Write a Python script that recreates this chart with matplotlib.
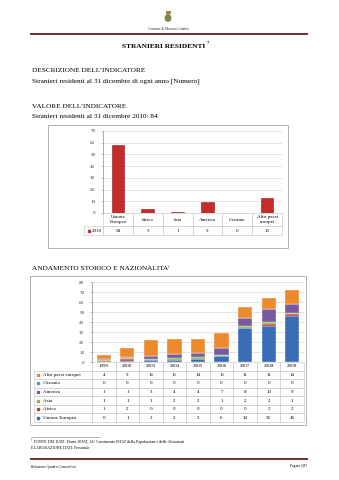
import matplotlib
matplotlib.use("Agg")
import matplotlib.pyplot as plt
import numpy as np
from matplotlib.patches import Rectangle, Ellipse
from matplotlib.lines import Line2D

W, H = 339, 480
SERIF = ["Liberation Serif", "DejaVu Serif"]
plt.rcParams["font.family"] = SERIF

# --- 2010 snapshot by area of origin
areas = ["Unione\nEuropea", "Africa", "Asia", "America", "Oceania", "Altri paesi\neuropei"]
residents_2010 = [58, 3, 1, 9, 0, 13]

# --- historical series (stack order bottom -> top)
years = ["1999", "2000", "2003", "2004", "2005", "2006", "2007", "2008", "2009"]
series_names = ["Unione Europea", "Africa", "Asia", "America", "Oceania", "Altri paesi europei"]
unione_europea = [0, 1, 2, 2, 3, 6, 34, 36, 46]
africa = [1, 2, 0, 0, 0, 0, 0, 2, 2]
asia = [1, 1, 1, 2, 2, 1, 2, 2, 1]
america = [1, 1, 3, 4, 4, 7, 8, 13, 9]
oceania = [0, 0, 0, 0, 0, 0, 0, 0, 0]
altri_europei = [4, 9, 16, 15, 14, 15, 11, 11, 14]
series_colors = ["#3a6db5", "#c0392f", "#8db34a", "#7a5a9e", "#3fa6c0", "#ee8a2e"]

fig = plt.figure(figsize=(W / 100, H / 100), dpi=100)
fig.patch.set_facecolor("white")


def fx(px):
    return px / W


def fy(py):
    return 1 - py / H


def ftext(x, y, s, **kw):
    fig.text(fx(x), fy(y), s, va="center", **kw)


def hline(x0, x1, y, **kw):
    fig.add_artist(Line2D([fx(x0), fx(x1)], [fy(y), fy(y)], **kw))


def box(x0, y0, x1, y1):
    fig.add_artist(Rectangle((fx(x0), fy(y1)), fx(x1) - fx(x0), fy(y0) - fy(y1),
                             fill=False, edgecolor="#a6a6a6", lw=0.6))


# page header
fig.add_artist(Ellipse((fx(168), fy(18)), fx(6), 7 / H, facecolor="#7d8a4a",
                       edgecolor="#5b6233", lw=0.4))
fig.add_artist(Rectangle((fx(165.5), fy(14)), fx(5), 2.5 / H, facecolor="#a08a4a", lw=0))
ftext(169, 29, "Comune di Morano Calabro", fontsize=2.6, ha="center", color="#333333")
hline(31, 307, 34, color="#6d2e2e", lw=1.4)
ftext(205, 46, "STRANIERI RESIDENTI", fontsize=5.3, ha="right", fontweight="bold")
ftext(206.5, 43.5, "7", fontsize=3.2, ha="left", fontweight="bold")

ftext(32, 70, "DESCRIZIONE DELL\u2019INDICATORE", fontsize=5.2, ha="left")
ftext(32, 81, "Stranieri residenti al 31 dicembre di ogni anno [Numero]", fontsize=5.2, ha="left")
ftext(32, 106, "VALORE DELL\u2019INDICATORE", fontsize=5.2, ha="left")
ftext(32, 117, "Stranieri residenti al 31 dicembre 2010: 84", fontsize=5.2, ha="left")
ftext(32, 268, "ANDAMENTO STORICO E NAZIONALITA\u2019", fontsize=5.2, ha="left")


def style_axes(ax, top):
    ax.set_ylim(0, top)
    ax.set_yticks(np.arange(0, top + 1, 10))
    ax.yaxis.grid(True, color="#d9d9d9", lw=0.5)
    ax.set_axisbelow(True)
    for side in ("top", "right", "bottom"):
        ax.spines[side].set_visible(False)
    ax.spines["left"].set_color("#8c8c8c")
    ax.spines["left"].set_linewidth(0.5)
    ax.tick_params(axis="y", labelsize=3.6, length=1.5, width=0.4, pad=4, colors="#8c8c8c",
                   labelcolor="#333333")
    ax.set_xticks([])
    ax.axhline(0, color="#8c8c8c", lw=0.5)


def data_table(ax, labels, header, rows, label_w, col_w, bbox, label_loc):
    body = [[lab] + vals for lab, vals in zip(labels, rows)]
    tbl = ax.table(cellText=body, colLabels=[""] + header,
                   colWidths=[label_w] + [col_w] * len(header),
                   cellLoc="center", bbox=bbox)
    tbl.auto_set_font_size(False)
    tbl.set_fontsize(3.6)
    for (r, c), cell in tbl.get_celld().items():
        cell.set_edgecolor("#bfbfbf")
        cell.set_linewidth(0.4)
        if r == 0 and c == 0:
            cell.set_linewidth(0)
        if c == 0 and r > 0:
            cell.get_text().set_ha(label_loc)
            cell._loc = label_loc
            cell.PAD = 0.06
    return tbl


# chart 1: 2010 by area
box(48, 125, 288, 248)
ax1 = fig.add_axes([fx(103), fy(213), fx(282) - fx(103), (213 - 131) / H])
x1 = np.arange(len(areas))
ax1.bar(x1, residents_2010, width=0.42, color="#c42b2b", edgecolor="#8e1b1b", lw=0.4)
ax1.set_xlim(-0.5, len(areas) - 0.5)
style_axes(ax1, 70)
t1 = data_table(ax1, ["2010"], areas, [[str(v) for v in residents_2010]],
                19, 29.8, [-19 / 179, -22 / 82, 198 / 179, 22 / 82], "right")
for j in range(len(areas) + 1):
    t1[(0, j)].set_height(t1[(0, j)].get_height() * 1.45)
ax1.plot([-14 / 179], [-17.5 / 82], marker="s", ms=1.8, color="#c42b2b",
         transform=ax1.transAxes, clip_on=False)

# chart 2: historical trend, stacked
box(30, 276, 306, 425)
ax2 = fig.add_axes([fx(92), fy(362), fx(304) - fx(92), 80 / H])
x2 = np.arange(len(years))
stack = [unione_europea, africa, asia, america, oceania, altri_europei]
bottom = np.zeros(len(years))
for vals, col in zip(stack, series_colors):
    ax2.bar(x2, vals, bottom=bottom, width=0.6, color=col, edgecolor="white", lw=0.25)
    bottom += np.array(vals)
ax2.set_xlim(-0.5, len(years) - 0.5)
style_axes(ax2, 80)

order = list(range(len(stack)))[::-1]
t2 = data_table(ax2, ["     " + series_names[i] for i in order], years,
                [[str(v) for v in stack[i]] for i in order],
                58, 23.56, [-58 / 212, -60 / 80, 270 / 212, 60 / 80], "left")
row_h = 60 / 7 / 80
for k, i in enumerate(order):
    ax2.plot([-53.5 / 212], [-row_h * (k + 1.5)], marker="s", ms=1.6, color=series_colors[i],
             transform=ax2.transAxes, clip_on=False)

# footnote and footer
hline(31, 100, 437, color="#7f7f7f", lw=0.4)
ftext(31, 441, "7", fontsize=2.0, ha="left")
ftext(33.5, 442, "FONTE DEI DATI: Demo ISTAT, 14\u00b0 Censimento ISTAT della Popolazione e delle Abitazioni",
      fontsize=2.9, ha="left")
ftext(31, 448, "ELABORAZIONE DATI: Personale", fontsize=2.9, ha="left")
hline(31, 307, 459, color="#6d2e2e", lw=1.4)
ftext(31, 466, "Relazione Quadro Conoscitivo", fontsize=2.6, ha="left")
ftext(307, 466, "Pagina Q87", fontsize=2.6, ha="right")

fig.savefig("out.png", dpi=100, facecolor="white")
